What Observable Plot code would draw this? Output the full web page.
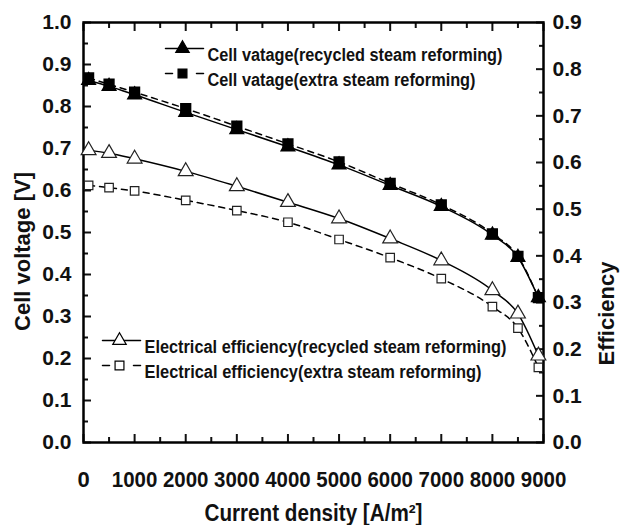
<!DOCTYPE html>
<html>
<head>
<meta charset="utf-8">
<script src="https://cdn.jsdelivr.net/npm/d3@7"></script>
<script src="https://cdn.jsdelivr.net/npm/@observablehq/plot@0.6"></script>
<style>
  html, body { margin: 0; padding: 0; background: #fff; }
</style>
</head>
<body>
<div id="chart"></div>
<script>
// ---- data ----
const currentDensity = [100, 500, 1000, 2000, 3000, 4000, 5000, 6000, 7000, 8000, 8500, 8900];
const voltageRecycled = [0.862, 0.848, 0.828, 0.786, 0.745, 0.704, 0.661, 0.612, 0.562, 0.494, 0.441, 0.345];
const voltageExtra    = [0.868, 0.853, 0.834, 0.795, 0.753, 0.711, 0.668, 0.617, 0.566, 0.497, 0.443, 0.345];
const effRecycled = [0.626, 0.620, 0.608, 0.581, 0.549, 0.515, 0.480, 0.437, 0.390, 0.326, 0.276, 0.186];
const effExtra    = [0.551, 0.546, 0.539, 0.519, 0.497, 0.472, 0.435, 0.396, 0.351, 0.291, 0.245, 0.161];

const xTicks = [0, 1000, 2000, 3000, 4000, 5000, 6000, 7000, 8000, 9000];
const xMinor = [500, 1500, 2500, 3500, 4500, 5500, 6500, 7500, 8500];
const yTicks = [0, 0.1, 0.2, 0.3, 0.4, 0.5, 0.6, 0.7, 0.8, 0.9, 1.0];
const yMinor = [0.05, 0.15, 0.25, 0.35, 0.45, 0.55, 0.65, 0.75, 0.85, 0.95];
const effTicks = [0, 0.1, 0.2, 0.3, 0.4, 0.5, 0.6, 0.7, 0.8, 0.9];
const effMinor = [0.05, 0.15, 0.25, 0.35, 0.45, 0.55, 0.65, 0.75, 0.85];
const effMax = 0.9;

const legendTop = ["Cell vatage(recycled steam reforming)", "Cell vatage(extra steam reforming)"];
const legendBottom = ["Electrical efficiency(recycled steam reforming)", "Electrical efficiency(extra steam reforming)"];

const xLabel = "Current density [A/m\u00B2]";
const yLabel = "Cell voltage [V]";
const y2Label = "Efficiency";

// ---- tables ----
const rows = (ys, scale = 1) => currentDensity.map((x, i) => ({x, y: ys[i] / scale}));
const vRec = rows(voltageRecycled);
const vExt = rows(voltageExtra);
const eRec = rows(effRecycled, effMax);
const eExt = rows(effExtra, effMax);

const sans = "'Liberation Sans', Arial, sans-serif";
const seg = {draw(ctx, l) { ctx.moveTo(0, 0); ctx.lineTo(0, -l); }};
const fmt = d3.format(".1f");

// condensed widths of texts set in a narrow face in the reference
const narrowWidths = new Map([
  [legendTop[0], 295], [legendTop[1], 268], [legendBottom[0], 362], [legendBottom[1], 337],
  [xLabel, 218]
]);

const legendItem = (label, symbol, fill, dashed, anchor, dx, dy) => [
  Plot.vector([0], {x: null, y: null, frameAnchor: anchor, dx: dx, dy: dy, rotate: 90, length: 38,
    anchor: "start", shape: seg, stroke: "black", strokeWidth: 1.5, strokeDasharray: dashed ? "7,24" : null}),
  Plot.dot([0], {x: null, y: null, frameAnchor: anchor, dx: dx + 17, dy: dy, symbol, r: 5,
    fill, stroke: "black", strokeWidth: 1.2}),
  Plot.text([label], {x: null, y: null, text: d => d, frameAnchor: anchor, dx: dx + 42, dy: dy,
    textAnchor: "start", fontFamily: sans, fontSize: 17.5, fontWeight: "bold", fill: "#111"})
];

const chart = Plot.plot({
  width: 621,
  height: 525,
  marginLeft: 83,
  marginRight: 78,
  marginTop: 22,
  marginBottom: 83,
  style: {fontFamily: sans, fontWeight: "bold", fontSize: "20px", color: "#111", background: "#fff"},
  x: {domain: [0, 9000]},
  y: {domain: [0, 1]},
  marks: [
    // axes
    Plot.axisX(xTicks, {anchor: "bottom", tickSize: -8, tickPadding: 37, strokeWidth: 2, label: null,
      fontSize: 22, tickFormat: d => String(d)}),
    Plot.axisX(xMinor, {anchor: "bottom", tickSize: -5, strokeWidth: 2, label: null, tickFormat: () => ""}),
    Plot.axisX(xTicks, {anchor: "top", tickSize: -8, strokeWidth: 2, label: null, tickFormat: () => ""}),
    Plot.axisX(xMinor, {anchor: "top", tickSize: -5, strokeWidth: 2, label: null, tickFormat: () => ""}),
    Plot.axisY(yTicks, {anchor: "left", tickSize: -8, tickPadding: 20, strokeWidth: 2, label: null,
      fontSize: 21, tickFormat: fmt}),
    Plot.axisY(yMinor, {anchor: "left", tickSize: -5, strokeWidth: 2, label: null, tickFormat: () => ""}),
    Plot.axisY(effTicks.map(e => e / effMax), {anchor: "right", tickSize: -8, tickPadding: 17, strokeWidth: 2,
      label: null, fontSize: 21, tickFormat: d => fmt(Math.round(d * effMax * 10) / 10)}),
    Plot.axisY(effMinor.map(e => e / effMax), {anchor: "right", tickSize: -5, strokeWidth: 2, label: null, tickFormat: () => ""}),
    Plot.frame({stroke: "black", strokeWidth: 2.5}),

    // axis titles
    Plot.text([yLabel], {x: null, y: null, text: d => d, frameAnchor: "left", dx: -61, dy: 19, rotate: -90,
      textAnchor: "middle", lineAnchor: "middle", fontSize: 22, fontFamily: sans, fontWeight: "bold", letterSpacing: "1.5px"}),
    Plot.text([y2Label], {x: null, y: null, text: d => d, frameAnchor: "right", dx: 63, dy: 81, rotate: -90,
      textAnchor: "middle", lineAnchor: "middle", fontSize: 22, fontFamily: sans, fontWeight: "bold", letterSpacing: "1.4px"}),
    Plot.text([xLabel], {x: null, y: null, text: d => d, frameAnchor: "bottom", dy: 71,
      textAnchor: "middle", lineAnchor: "middle", fontSize: 23, fontFamily: sans, fontWeight: "bold"}),

    // curves
    Plot.line(vRec, {x: "x", y: "y", curve: "monotone-x", stroke: "black", strokeWidth: 1.5}),
    Plot.line(vExt, {x: "x", y: "y", curve: "monotone-x", stroke: "black", strokeWidth: 1.5, strokeDasharray: "6,5"}),
    Plot.line(eRec, {x: "x", y: "y", curve: "monotone-x", stroke: "black", strokeWidth: 1.5}),
    Plot.line(eExt, {x: "x", y: "y", curve: "monotone-x", stroke: "black", strokeWidth: 1.5, strokeDasharray: "6,5"}),
    Plot.dot(vRec, {x: "x", y: "y", symbol: "triangle", r: 5, fill: "black", stroke: "black"}),
    Plot.dot(vExt, {x: "x", y: "y", symbol: "square", r: 5.5, fill: "black", stroke: "black"}),
    Plot.dot(eRec, {x: "x", y: "y", symbol: "triangle", r: 5.5, fill: "white", stroke: "#222", strokeWidth: 1.2}),
    Plot.dot(eExt, {x: "x", y: "y", symbol: "square", r: 4.8, fill: "white", stroke: "#222", strokeWidth: 1.2}),

    // legends
    ...legendItem(legendTop[0], "triangle", "black", false, "top-left", 82, 26),
    ...legendItem(legendTop[1], "square", "black", true, "top-left", 82, 51),
    ...legendItem(legendBottom[0], "triangle", "white", false, "top-left", 19, 318),
    ...legendItem(legendBottom[1], "square", "white", true, "top-left", 19, 343)
  ]
});
document.getElementById("chart").appendChild(chart);

// condense the narrow-face texts (legend entries, x title and x tick labels)
d3.select(chart).selectAll("text").each(function () {
  const t = this.textContent;
  if (narrowWidths.has(t)) {
    this.setAttribute("textLength", narrowWidths.get(t));
    this.setAttribute("lengthAdjust", "spacingAndGlyphs");
  }
});
d3.select(chart).selectAll('g[aria-label="x-axis tick label"] text').each(function () {
  const w = this.getComputedTextLength();
  if (w > 20) {
    this.setAttribute("textLength", w * 0.93);
    this.setAttribute("lengthAdjust", "spacingAndGlyphs");
  }
});
</script>
</body>
</html>
